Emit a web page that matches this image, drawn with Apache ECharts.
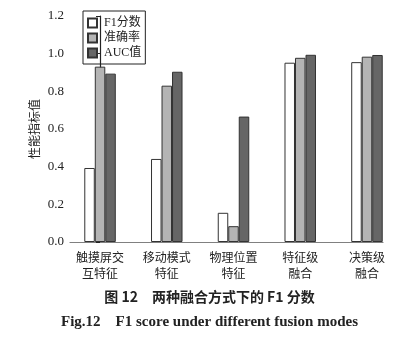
<!DOCTYPE html>
<html><head><meta charset="utf-8">
<script src="https://cdn.jsdelivr.net/npm/echarts@6/dist/echarts.min.js"></script>
<style>html,body{margin:0;padding:0;background:#fff}#c{width:419px;height:337px}</style>
</head><body><div id="c"></div>
<script>
var categories = ['触摸屏交\n互特征', '移动模式\n特征', '物理位置\n特征', '特征级\n融合', '决策级\n融合'];
var f1Values = [0.393, 0.441, 0.155, 0.952, 0.955];
var accValues = [0.931, 0.830, 0.084, 0.978, 0.984];
var aucValues = [0.894, 0.904, 0.666, 0.994, 0.993];
var yTicks = [0.0, 0.2, 0.4, 0.6, 0.8, 1.0, 1.2];
var seriesNames = ['F1分数', '准确率', 'AUC值'];

function pairs(arr){ return arr.map(function(v,i){ return [i, v]; }); }
var serif = '"Liberation Serif", "Noto Sans CJK SC", serif';
var chart = echarts.init(document.getElementById('c'));
var colors = ['#ffffff', '#b4b4b4', '#666666'];
var vals = [f1Values, accValues, aucValues];
chart.setOption({
  animation: false,
  grid: {left: 70, right: 36, top: 16, bottom: 95, containLabel: false},
  legend: {
    orient: 'vertical', left: 83, top: 11,
    data: seriesNames,
    itemWidth: 9, itemHeight: 9, itemGap: 1,
    padding: [5, 4, 4, 4],
    borderColor: '#222', borderWidth: 1,
    textStyle: {fontFamily: serif, fontSize: 12, color: '#222', lineHeight: 14, padding: [0, 0, 0, 2]},
    icon: 'rect'
  },
  xAxis: {
    type: 'value', min: -0.45, max: 4.24,
    axisLine: {show: true, lineStyle: {color: '#808080', width: 1.2}},
    axisTick: {show: false},
    splitLine: {show: false},
    axisLabel: {
      customValues: [0, 1, 2, 3, 4],
      formatter: function(v){ return categories[Math.round(v)]; },
      fontFamily: '"Noto Sans CJK SC", sans-serif', fontSize: 12, color: '#222',
      lineHeight: 16, margin: 7
    }
  },
  yAxis: {
    type: 'value', min: 0, max: 1.2, interval: 0.2,
    name: '性能指标值', nameLocation: 'middle', nameGap: 30, nameMoveOverlap: false,
    nameTextStyle: {fontFamily: '"Noto Sans CJK SC", sans-serif', fontSize: 12, color: '#222'},
    axisLine: {show: true, lineStyle: {color: '#222', width: 1.2}},
    axisTick: {show: true, inside: false, length: 4, lineStyle: {color: '#222'}},
    splitLine: {show: false},
    axisLabel: {
      formatter: function(v){ return v.toFixed(1); },
      fontFamily: serif, fontSize: 13, color: '#222', margin: 6
    }
  },
  series: seriesNames.map(function(n, k){
    return {
      name: n, type: 'bar', data: pairs(vals[k]),
      barWidth: 10.5, barGap: '0%',
      itemStyle: {color: colors[k], borderColor: '#333', borderWidth: 1}
    };
  }),
  title: [
    {text: '图 12　两种融合方式下的 F1 分数', left: 'center', top: 285,
     textStyle: {fontFamily: '"Noto Sans CJK SC", sans-serif', fontSize: 14, fontWeight: 'bold', color: '#222'}},
    {text: 'Fig.12　F1 score under different fusion modes', left: 'center', top: 310,
     textStyle: {fontFamily: serif, fontSize: 15, fontWeight: 'bold', color: '#222'}}
  ]
});
</script></body></html>
